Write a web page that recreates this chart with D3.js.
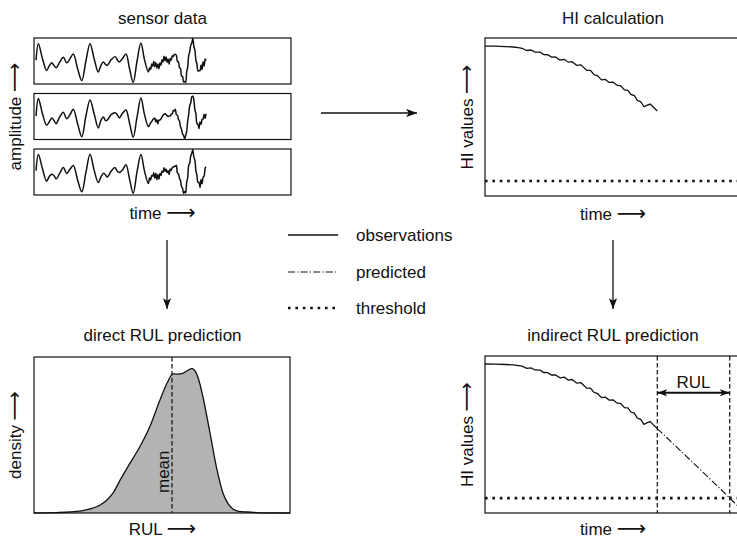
<!DOCTYPE html>
<html>
<head>
<meta charset="utf-8">
<script src="https://cdn.jsdelivr.net/npm/d3@7"></script>
<style>
  html, body { margin: 0; padding: 0; background: #fff; }
  svg { display: block; }
  text { font-family: "Liberation Sans", Arial, "DejaVu Sans", sans-serif; fill: #111; }
</style>
</head>
<body>
<svg id="chart" width="737" height="539"></svg>
<script>
// ---- sensor signals (time in % of life, normalised amplitude) ----
const sensorTime = [
  0.8, 1.7, 3.3, 4.9, 6.0, 6.9, 7.8, 8.6, 10.0, 11.4,
  12.7, 14.0, 15.3, 17.0, 18.6, 20.2, 21.8, 23.4, 25.0, 26.0,
  27.0, 27.8, 28.5, 30.0, 31.5, 32.4, 33.2, 34.5, 35.8, 37.2,
  38.6, 40.1, 41.6, 43.0, 44.5, 45.0, 45.4, 45.8, 46.2, 46.6,
  47.0, 47.4, 47.8, 48.2, 48.6, 49.0, 49.4, 49.8, 50.2, 50.6,
  51.0, 51.4, 51.8, 52.2, 52.6, 53.0, 53.4, 53.8, 54.2, 54.6,
  55.0, 55.4, 55.8, 56.2, 56.6, 57.0, 57.4, 57.8, 58.2, 58.6,
  59.0, 59.4, 59.8, 60.2, 60.6, 61.0, 61.4, 61.8, 62.2, 62.6,
  63.0, 63.4, 63.8, 64.2, 64.6, 65.0, 65.4, 65.8, 66.2, 66.6,
  66.9
];
const sensorA = [
  0.04, 0.75, 0.10, -0.41, -0.20, -0.08, -0.20, -0.29, -0.05, 0.16,
  -0.08, 0.10, 0.30, -0.35, -0.85, 0.00, 0.75, 0.10, -0.48, -0.20,
  -0.04, -0.15, -0.19, 0.05, 0.19, 0.05, -0.04, 0.12, 0.30, -0.35,
  -0.93, 0.00, 0.78, 0.05, -0.48, -0.29, -0.37, -0.13, -0.23, -0.01,
  -0.24, -0.07, -0.31, -0.13, -0.34, -0.09, -0.19, 0.05, -0.04, 0.21,
  0.01, 0.19, -0.06, 0.09, -0.14, 0.11, 0.03, 0.23, 0.19, 0.29,
  0.29, 0.25, -0.02, -0.03, -0.29, -0.33, -0.65, -0.67, -0.91, -0.89,
  -0.93, -0.48, -0.27, 0.25, 0.41, 0.69, 0.78, 0.99, 0.63, 0.47,
  0.03, -0.13, -0.43, -0.43, -0.41, -0.17, -0.37, -0.03, -0.23, 0.09,
  0.01
];
const sensorB = [
  0.02, 0.78, 0.12, -0.38, -0.22, -0.06, -0.18, -0.31, -0.02, 0.18,
  -0.10, 0.08, 0.32, -0.33, -0.88, 0.02, 0.72, 0.12, -0.50, -0.18,
  -0.02, -0.18, -0.16, 0.08, 0.16, 0.08, -0.06, 0.15, 0.28, -0.30,
  -0.90, -0.02, 0.80, 0.08, -0.45, -0.36, -0.28, -0.22, -0.14, -0.10,
  -0.06, -0.24, -0.14, -0.32, -0.16, -0.16, -0.10, -0.02, 0.05, 0.10,
  0.12, 0.08, 0.04, 0.00, 0.02, 0.02, 0.10, 0.12, 0.26, 0.24,
  0.32, 0.08, 0.06, -0.12, -0.20, -0.44, -0.56, -0.76, -0.82, -0.97,
  -0.84, -0.66, -0.19, 0.09, 0.48, 0.60, 0.86, 0.88, 0.72, 0.30,
  0.11, -0.31, -0.34, -0.52, -0.24, -0.34, -0.14, -0.10, 0.10, -0.08,
  0.12
];
const sensorC = [
  0.06, 0.76, 0.14, -0.40, -0.18, -0.10, -0.16, -0.30, -0.06, 0.20,
  -0.06, 0.12, 0.28, -0.36, -0.86, -0.02, 0.77, 0.08, -0.46, -0.22,
  -0.06, -0.12, -0.22, 0.03, 0.20, 0.03, -0.02, 0.10, 0.32, -0.32,
  -0.92, 0.02, 0.76, 0.04, -0.50, -0.25, -0.35, -0.15, -0.19, -0.03,
  -0.27, -0.05, -0.33, -0.11, -0.31, -0.07, -0.15, 0.03, -0.01, 0.19,
  0.03, 0.13, -0.03, 0.05, -0.11, 0.13, 0.07, 0.19, 0.21, 0.25,
  0.25, 0.29, -0.05, -0.07, -0.27, -0.37, -0.63, -0.71, -0.93, -0.85,
  -0.91, -0.45, -0.25, 0.29, 0.39, 0.71, 0.81, 0.97, 0.65, 0.51,
  0.05, -0.15, -0.45, -0.45, -0.67, -0.33, -0.51, -0.23, -0.17, 0.17,
  0.23
];

// ---- health indicator ----
const hiTime = [
  0, 4, 8, 11, 13, 14.5, 16.3, 18, 19.5, 21.5,
  23, 24.5, 26, 27.5, 29.3, 31, 32.5, 34, 35.8, 37.5,
  39.7, 41.2, 42.5, 44, 45.5, 47, 48.5, 50.1, 51.5, 53,
  54.5, 55.8, 57, 58.3, 59.5, 60.8, 62.1, 63.2, 64.5, 65.5,
  67.3
];
const hiObserved = [
  0.949, 0.948, 0.946, 0.943, 0.939, 0.935, 0.921, 0.924, 0.911, 0.910,
  0.895, 0.894, 0.879, 0.880, 0.861, 0.865, 0.847, 0.850, 0.827, 0.830,
  0.795, 0.795, 0.769, 0.760, 0.735, 0.738, 0.719, 0.720, 0.701, 0.697,
  0.671, 0.669, 0.643, 0.636, 0.605, 0.597, 0.565, 0.574, 0.582, 0.566,
  0.538
];
const predTime = [67.3, 75, 85, 95.6, 100];
const hiPredicted = [0.538, 0.418, 0.262, 0.095, 0.024];
const hiThreshold = 0.095;
const nowTime = 67.3;
const failTime = 95.6;

// ---- direct RUL density ----
const rulGrid = [
  0, 3.5, 9, 14, 20, 25.8, 28.5, 30.9, 34, 37.5,
  41.4, 45.3, 49.2, 52, 54.3, 56, 57.8, 59.8, 61.7, 63.2,
  64.7, 66, 68.75, 71.5, 73.8, 75.8, 77.7, 80, 83.2, 87,
  91, 100
];
const rulDensity = [
  0, 0.001, 0.003, 0.007, 0.02, 0.055, 0.09, 0.139, 0.24, 0.345,
  0.46, 0.60, 0.783, 0.900, 0.963, 0.962, 0.965, 0.985, 1.0, 0.975,
  0.90, 0.803, 0.554, 0.298, 0.139, 0.065, 0.028, 0.012, 0.007, 0.003,
  0.001, 0
];
const rulMean = 53.9;

// ---- text ----
const titles = ["sensor data", "HI calculation", "direct RUL prediction", "indirect RUL prediction"];
const legendLabels = ["observations", "predicted", "threshold"];
const LONG_ARROW = "\u27F6";

const svg = d3.select("#chart");
const defs = svg.append("defs");

function arrowMarker(id, len, half) {
  defs.append("marker")
    .attr("id", id)
    .attr("markerUnits", "userSpaceOnUse")
    .attr("viewBox", `0 ${-half} ${len} ${2 * half}`)
    .attr("refX", len).attr("refY", 0)
    .attr("markerWidth", len).attr("markerHeight", 2 * half)
    .attr("orient", "auto-start-reverse")
    .append("path")
    .attr("d", `M0,${-half}L${len},0L0,${half}L${len * 0.25},0Z`)
    .attr("fill", "#111");
}
arrowMarker("flow", 11, 4.2);
arrowMarker("span", 10, 3.6);

const frame = (x0, y0, x1, y1) =>
  svg.append("rect").attr("x", x0).attr("y", y0)
    .attr("width", x1 - x0).attr("height", y1 - y0)
    .attr("fill", "none").attr("stroke", "#111").attr("stroke-width", 1.2);

const label = (x, y, s, rot) => {
  const t = svg.append("text").attr("font-size", 17).attr("text-anchor", "middle").text(s);
  if (rot) t.attr("transform", `translate(${x},${y}) rotate(-90)`);
  else t.attr("x", x).attr("y", y);
  return t;
};

// axis caption followed by a long arrow
const axisLabel = (x, y, s, rot) => {
  const t = svg.append("text").attr("font-size", 17).attr("text-anchor", "middle");
  t.append("tspan").text(s + " ");
  t.append("tspan").attr("font-size", 20.5).text(LONG_ARROW);
  if (rot) t.attr("transform", `translate(${x},${y}) rotate(-90)`);
  else t.attr("x", x).attr("y", y);
  return t;
};

const DOTTED = "2.6 4.8";
const DASHDOT = "7 2.2 1.2 2.2";
const DASHED = "4.5 2.5";

// ---- sensor data panel ----
const sx = d3.scaleLinear([0, 100], [34, 291]);
const boxes = [[38, 84], [93.5, 139.5], [149, 195]];
const signals = [sensorA, sensorB, sensorC];
boxes.forEach(([top, bot], i) => {
  const sy = d3.scaleLinear([-1, 1], [bot, top]);
  const line = d3.line().x(d => sx(d[0])).y(d => sy(d[1])).curve(d3.curveCatmullRom.alpha(0.5));
  svg.append("path")
    .attr("d", line(d3.zip(sensorTime, signals[i])))
    .attr("fill", "none").attr("stroke", "#111").attr("stroke-width", 1.5)
    .attr("stroke-linejoin", "round");
  frame(34, top, 291, bot);
});
label(162.5, 24, titles[0]);
axisLabel(162.5, 219, "time");
axisLabel(21, 116.5, "amplitude", true);

// ---- HI calculation panel ----
const hx = d3.scaleLinear([0, 100], [485, 741]);
const hy1 = d3.scaleLinear([0, 1], [196, 38]);
const hiLine1 = d3.line().x(d => hx(d[0])).y(d => hy1(d[1]));
svg.append("path").attr("d", hiLine1(d3.zip(hiTime, hiObserved)))
  .attr("fill", "none").attr("stroke", "#111").attr("stroke-width", 1.3);
svg.append("line").attr("x1", hx(0)).attr("x2", hx(100))
  .attr("y1", hy1(hiThreshold)).attr("y2", hy1(hiThreshold))
  .attr("stroke", "#111").attr("stroke-width", 2.6).attr("stroke-dasharray", DOTTED);
frame(485, 38, 741, 196);
label(613, 24, titles[1]);
axisLabel(613, 220, "time");
axisLabel(473, 117, "HI values", true);

// ---- flow arrows ----
svg.append("line").attr("x1", 321).attr("x2", 417).attr("y1", 113).attr("y2", 113)
  .attr("stroke", "#111").attr("stroke-width", 1.7).attr("marker-end", "url(#flow)");
[167, 613].forEach(x =>
  svg.append("line").attr("x1", x).attr("x2", x).attr("y1", 240).attr("y2", 309)
    .attr("stroke", "#111").attr("stroke-width", 1.3).attr("marker-end", "url(#flow)"));

// ---- legend ----
const legendStyles = [
  { dash: null, w: 1.3 },
  { dash: DASHDOT, w: 1.1 },
  { dash: DOTTED, w: 2.6 }
];
const legendY = [235, 272, 308];
legendLabels.forEach((s, i) => {
  const ln = svg.append("line").attr("x1", 288).attr("x2", 338)
    .attr("y1", legendY[i]).attr("y2", legendY[i])
    .attr("stroke", "#111").attr("stroke-width", legendStyles[i].w);
  if (legendStyles[i].dash) ln.attr("stroke-dasharray", legendStyles[i].dash);
  svg.append("text").attr("x", 356).attr("y", legendY[i] + 6).attr("font-size", 17).text(s);
});

// ---- direct RUL prediction ----
const rx = d3.scaleLinear([0, 100], [34, 290]);
const ry = d3.scaleLinear([0, 1.08], [513, 357]);
const densPts = d3.zip(rulGrid, rulDensity);
svg.append("path")
  .attr("d", d3.area().x(d => rx(d[0])).y0(ry(0)).y1(d => ry(d[1])).curve(d3.curveMonotoneX)(densPts))
  .attr("fill", "#b3b3b3");
svg.append("path")
  .attr("d", d3.line().x(d => rx(d[0])).y(d => ry(d[1])).curve(d3.curveMonotoneX)(densPts))
  .attr("fill", "none").attr("stroke", "#111").attr("stroke-width", 1.3);
svg.append("line").attr("x1", rx(rulMean)).attr("x2", rx(rulMean)).attr("y1", 357).attr("y2", 513)
  .attr("stroke", "#111").attr("stroke-width", 1.2).attr("stroke-dasharray", DASHED);
svg.append("text").attr("font-size", 17).attr("text-anchor", "start")
  .attr("transform", `translate(${rx(rulMean) - 2.5},493) rotate(-90)`).text("mean");
frame(34, 357, 290, 513);
label(162.5, 341, titles[2]);
axisLabel(162.5, 535, "RUL");
axisLabel(21, 435, "density", true);

// ---- indirect RUL prediction ----
const hy2 = d3.scaleLinear([0, 1], [513, 356]);
svg.append("path").attr("d", d3.line().x(d => hx(d[0])).y(d => hy2(d[1]))(d3.zip(hiTime, hiObserved)))
  .attr("fill", "none").attr("stroke", "#111").attr("stroke-width", 1.3);
svg.append("path").attr("d", d3.line().x(d => hx(d[0])).y(d => hy2(d[1])).curve(d3.curveMonotoneX)(d3.zip(predTime, hiPredicted)))
  .attr("fill", "none").attr("stroke", "#111").attr("stroke-width", 1.1).attr("stroke-dasharray", DASHDOT);
svg.append("line").attr("x1", hx(0)).attr("x2", hx(100))
  .attr("y1", hy2(hiThreshold)).attr("y2", hy2(hiThreshold))
  .attr("stroke", "#111").attr("stroke-width", 2.6).attr("stroke-dasharray", DOTTED);
[nowTime, failTime].forEach(t =>
  svg.append("line").attr("x1", hx(t)).attr("x2", hx(t)).attr("y1", 356).attr("y2", 513)
    .attr("stroke", "#111").attr("stroke-width", 1.2).attr("stroke-dasharray", DASHED));
svg.append("line").attr("x1", hx(nowTime)).attr("x2", hx(failTime)).attr("y1", 392.7).attr("y2", 392.7)
  .attr("stroke", "#111").attr("stroke-width", 2)
  .attr("marker-start", "url(#span)").attr("marker-end", "url(#span)");
label((hx(nowTime) + hx(failTime)) / 2, 388, "RUL");
frame(485, 356, 741, 513);
label(613, 341, titles[3]);
axisLabel(613, 535, "time");
axisLabel(473, 434.5, "HI values", true);
</script>
</body>
</html>
